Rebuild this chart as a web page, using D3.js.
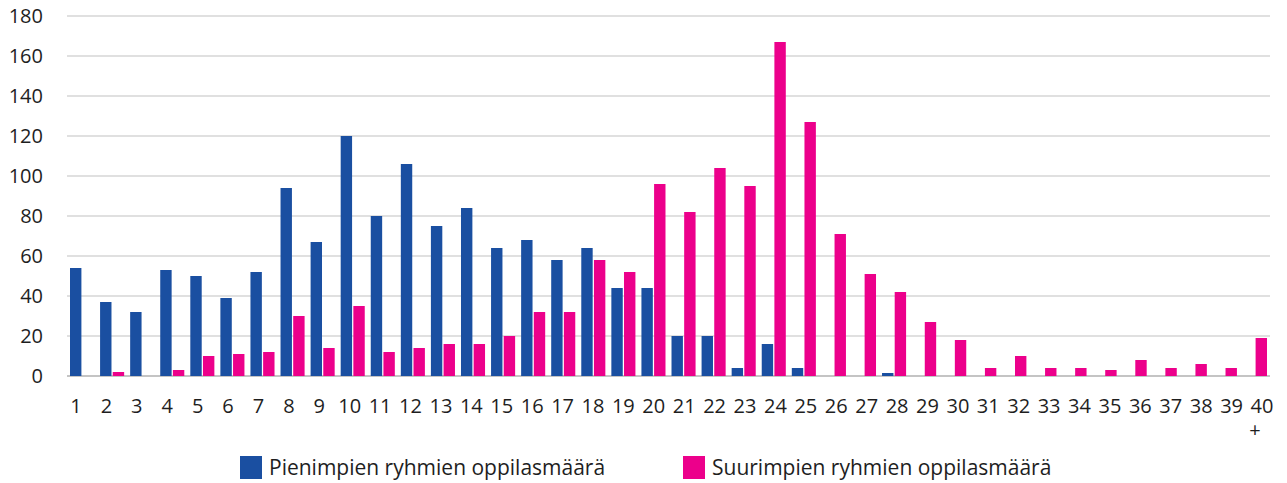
<!DOCTYPE html>
<html>
<head>
<meta charset="utf-8">
<script src="https://cdn.jsdelivr.net/npm/d3@7"></script>
<style>
  body{margin:0;background:#fff}
  svg text{font-family:"Open Sans",sans-serif;fill:#1e1e1e}
</style>
</head>
<body>
<div id="chart"></div>
<script>
let cats=['1','2','3','4','5','6','7','8','9','10','11','12','13','14','15','16','17','18','19','20','21','22','23','24','25','26','27','28','29','30','31','32','33','34','35','36','37','38','39','40+']
let pienimmat=[54,37,32,53,50,39,52,94,67,120,80,106,75,84,64,68,58,64,44,44,20,20,4,16,4,0,0,1.5,0,0,0,0,0,0,0,0,0,0,0,0]
let suurimmat=[0,2,0,3,10,11,12,30,14,35,12,14,16,16,20,32,32,58,52,96,82,104,95,167,127,71,51,42,27,18,4,10,4,4,3,8,4,6,4,19]
let yTicks=[0,20,40,60,80,100,120,140,160,180]
let seriesNames=['Pienimpien ryhmien oppilasmäärä','Suurimpien ryhmien oppilasmäärä']
let colors=['#1a4fa1','#ec008b']

let w=1287, h=483
let pLeft=67, pRight=1270, pTop=16, pBottom=376

let svg=d3.select('#chart').append('svg').attr('width',w).attr('height',h)

let x=d3.scaleBand().domain(cats).range([pLeft,pRight]).paddingInner(0.2).paddingOuter(0.1)
let x1=d3.scaleBand().domain([0,1]).range([0,x.bandwidth()]).paddingInner(0.1)
let y=d3.scaleLinear().domain([0,180]).range([pBottom,pTop])
// excel spreads the labels a little wider than the bars
let xl=d3.scalePoint().domain(cats).range([76,1262])

// grid
svg.append('g').selectAll('line').data(yTicks).enter().append('line')
  .attr('x1',pLeft).attr('x2',pRight)
  .attr('y1',d=>y(d)).attr('y2',d=>y(d))
  .attr('stroke',d=>d==0?'#c4c4c4':'#d6d6d6')
  .attr('stroke-width',d=>d==0?2:1.5)

// y labels
svg.append('g').selectAll('text').data(yTicks).enter().append('text')
  .attr('x',43).attr('y',d=>y(d)).attr('dy','0.36em')
  .attr('text-anchor','end').style('font-size','20px')
  .text(d=>String(d))

// bars
let data=cats.map((c,i)=>({c:c,v:[pienimmat[i],suurimmat[i]]}))
let groups=svg.append('g').selectAll('g').data(data).enter().append('g')
  .attr('transform',d=>'translate('+x(d.c)+',0)')
groups.selectAll('rect').data(d=>d.v.map((v,k)=>({k:k,v:v}))).enter().append('rect')
  .filter(d=>d.v>0)
  .attr('x',d=>x1(d.k)).attr('width',x1.bandwidth())
  .attr('y',d=>y(d.v)).attr('height',d=>pBottom-y(d.v))
  .attr('fill',d=>colors[d.k])

// x labels
let xlab=svg.append('g').selectAll('text').data(cats).enter().append('text')
  .attr('x',d=>xl(d)).attr('y',413)
  .attr('text-anchor','middle').style('font-size','20px')
xlab.append('tspan').text(d=>d.replace('+',''))
xlab.filter(d=>d.indexOf('+')>=0).append('tspan')
  .attr('x',d=>xl(d)-7).attr('dy',24).text('+')

// legend
let lx=[240,683]
let leg=svg.append('g').selectAll('g').data(seriesNames).enter().append('g')
  .attr('transform',(d,i)=>'translate('+lx[i]+',456)')
leg.append('rect').attr('width',22).attr('height',23).attr('fill',(d,i)=>colors[i])
leg.append('text').attr('x',29).attr('y',19).style('font-size','21px').text(d=>d)
</script>
</body>
</html>
